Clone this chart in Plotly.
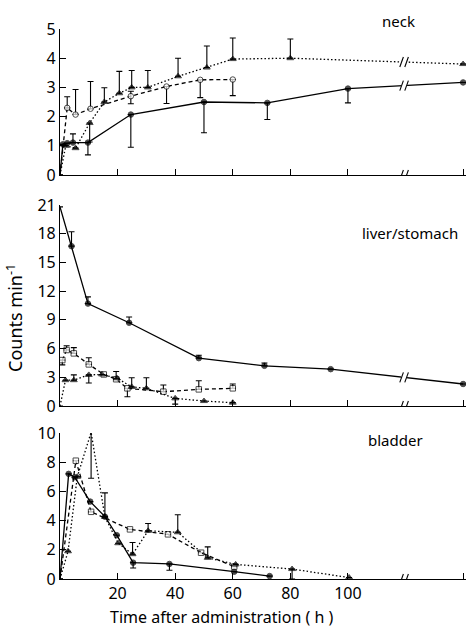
import numpy as np
import plotly.graph_objects as go

# ---------------- data (hours, counts/min) ----------------
# NECK
neck_solid_x = [0, 1, 2.5, 4.5, 9.7, 24.6, 50, 72, 100, 150]
neck_solid_y = [0, 1.05, 1.09, 1.11, 1.11, 2.07, 2.5, 2.47, 2.96, 3.17]
neck_solid_up = [0, 0, 0, 0.3, 0, 0, 0, 0, 0, 0]
neck_solid_dn = [0, 0, 0, 0, 0.42, 1.12, 1.05, 0.57, 0.49, 0]

neck_tri_x = [0, 2, 5.4, 10.3, 15.4, 20.6, 24.9, 30.5, 41, 51, 60, 80, 150]
neck_tri_y = [0, 1.0, 0.92, 1.78, 2.5, 2.8, 3.0, 3.0, 3.38, 3.68, 3.97, 4.0, 3.8]
neck_tri_up = [0, 0, 0, 0, 0.49, 0.75, 0.58, 0.58, 0.62, 0.74, 0.72, 0.66, 0]
neck_tri_dn = [0, 0, 0, 0.65, 0, 0, 0, 0, 0, 0, 0, 0, 0]

neck_open_x = [0, 2.5, 5.4, 10.6, 24.6, 37, 48.7, 60]
neck_open_y = [0, 2.3, 2.07, 2.27, 2.7, 3.03, 3.26, 3.27]
neck_open_up = [0, 0.38, 0.86, 0.93, 0.17, 0, 0, 0]
neck_open_dn = [0, 0, 0, 0, 0.26, 0.58, 0.61, 0.55]

# LIVER / STOMACH
liver_solid_x = [0, 4, 9.7, 24, 48.2, 71, 94, 150]
liver_solid_y = [20.8, 16.7, 10.7, 8.7, 5.0, 4.2, 3.85, 2.3]
liver_solid_up = [0, 1.5, 0.7, 0.6, 0.3, 0.3, 0, 0]
liver_solid_dn = [0, 0, 0, 0, 0, 0, 0, 0]

liver_open_x = [0.8, 2.3, 4.8, 10, 15.2, 19.5, 23.4, 35.9, 48.2, 60]
liver_open_y = [4.8, 5.85, 5.5, 4.35, 3.3, 2.8, 1.85, 1.5, 1.74, 1.85]
liver_open_up = [0, 0.45, 0.6, 0.7, 0, 0.8, 0, 0.7, 0.9, 0.45]
liver_open_dn = [0.5, 0, 0, 0, 0, 0, 0.88, 0, 0, 0]

liver_tri_x = [0, 1.9, 4.8, 10, 14.6, 19.8, 24.9, 30, 40, 50, 60]
liver_tri_y = [0, 2.7, 2.7, 3.25, 3.3, 2.9, 2.0, 1.85, 0.8, 0.52, 0.35]
liver_tri_up = [0, 0, 0.55, 0, 0, 0, 0.95, 1.1, 0, 0, 0]
liver_tri_dn = [0, 0, 0, 0.85, 0, 0, 0, 0, 0.6, 0, 0]

# BLADDER
blad_solid_x = [0, 3, 5.1, 10.5, 15.6, 19.7, 25.4, 38, 60.5, 72.8]
blad_solid_y = [0, 7.2, 6.97, 5.3, 4.27, 3.0, 1.12, 1.03, 0.5, 0.2]
blad_solid_up = [0, 0, 0, 0, 0, 0, 0, 0, 0, 0]
blad_solid_dn = [0, 0, 0, 0, 0, 0, 0.37, 0.43, 0, 0]

blad_open_x = [0, 5.5, 10.8, 24.3, 37.5, 49, 60.5]
blad_open_y = [0, 8.1, 4.6, 3.4, 3.06, 1.8, 0.85]
blad_open_up = [0, 0, 0, 0, 0, 0, 0]
blad_open_dn = [0, 0, 0, 0, 0, 0, 0]

blad_tri_x = [0, 2.8, 6, 10.8, 15.6, 20.2, 25.2, 30.6, 40.9, 51.3, 61, 80.6, 100.5]
blad_tri_y = [0, 1.9, 7.0, 10.05, 4.25, 2.45, 1.7, 3.3, 3.2, 1.45, 1.0, 0.68, 0.1]
blad_tri_up = [0, 0, 0, 0, 1.65, 0, 0.8, 0.5, 1.2, 0.75, 0, 0, 0]
blad_tri_dn = [0, 0, 0, 3.15, 0, 0, 0, 0, 0, 0, 0, 0.68, 0]

x_tick_vals = [20, 40, 60, 80, 100, 150]
x_tick_text = ["20", "40", "60", "80", "100", "150"]
panel_names = ["neck", "liver/stomach", "bladder"]
y_ranges = [(0, 5, 1), (0, 21, 3), (0, 10, 2)]

# ---------------- broken-axis transform ----------------
BREAK_AT = 100.0
COMPRESS = 0.8
BREAK_POS = 119.5  # transformed position of the "//" marks


def tx(x):
    x = np.asarray(x, dtype=float)
    return np.where(x <= BREAK_AT, x, BREAK_AT + (x - BREAK_AT) * COMPRESS)


FONT = "Noto Sans"
fig = go.Figure()


def add_series(xs, ys, up, dn, symbol, fill, dash, axis):
    xs_t = tx(xs)
    sizes = [0 if x == 0 else (6 if symbol == "triangle-up" else 5.5) for x in xs]
    fig.add_trace(go.Scatter(
        x=xs_t, y=ys, xaxis="x" + axis, yaxis="y" + axis,
        mode="lines+markers",
        line=dict(color="black", width=1.3, dash=dash),
        marker=dict(symbol=symbol, size=sizes, color=fill,
                    line=dict(color="black", width=1)),
        error_y=dict(type="data", symmetric=False, array=up, arrayminus=dn,
                     color="black", thickness=1.1, width=3),
        cliponaxis=False, showlegend=False, hoverinfo="x+y",
    ))
    return xs_t, np.asarray(ys, dtype=float)


DOT = "1.5px,2.2px"
DASH = "4px,3px"

panels = [
    ("", [(neck_solid_x, neck_solid_y, neck_solid_up, neck_solid_dn, "circle", "black", "solid"),
          (neck_tri_x, neck_tri_y, neck_tri_up, neck_tri_dn, "triangle-up", "black", DOT),
          (neck_open_x, neck_open_y, neck_open_up, neck_open_dn, "circle", "white", DASH)]),
    ("2", [(liver_solid_x, liver_solid_y, liver_solid_up, liver_solid_dn, "circle", "black", "solid"),
           (liver_open_x, liver_open_y, liver_open_up, liver_open_dn, "square", "white", DASH),
           (liver_tri_x, liver_tri_y, liver_tri_up, liver_tri_dn, "triangle-up", "black", DOT)]),
    ("3", [(blad_solid_x, blad_solid_y, blad_solid_up, blad_solid_dn, "circle", "black", "solid"),
           (blad_open_x, blad_open_y, blad_open_up, blad_open_dn, "square", "white", DASH),
           (blad_tri_x, blad_tri_y, blad_tri_up, blad_tri_dn, "triangle-up", "black", DOT)]),
]

shapes = []


def break_marks(axis, yval):
    xr, yr = "x" + axis, "y" + axis
    common = dict(xref=xr, yref=yr, xsizemode="pixel", ysizemode="pixel",
                  xanchor=BREAK_POS, yanchor=yval)
    shapes.append(dict(type="rect", x0=-3, x1=3, y0=-2.5, y1=2.5,
                       fillcolor="white", line=dict(width=0), **common))
    for off in (-2.5, 2.5):
        shapes.append(dict(type="line", x0=off - 1.8, x1=off + 1.8, y0=-5, y1=5,
                           line=dict(color="black", width=1.1), **common))


for axis, series in panels:
    for s in series:
        xs_t, ys = add_series(*s, axis)
        if xs_t.max() > BREAK_POS:
            break_marks(axis, float(np.interp(BREAK_POS, xs_t, ys)))
    break_marks(axis, 0.0)

# ---------------- layout ----------------
domains = [[0.7345, 1.0], [0.3145, 0.68], [0.0, 0.2655]]
layout = dict(
    width=466, height=627,
    margin=dict(l=60, r=0, t=29, b=48),
    paper_bgcolor="white", plot_bgcolor="white",
    font=dict(family=FONT, color="black", size=15),
    shapes=shapes,
)
for i, axis in enumerate(["", "2", "3"]):
    lo, hi, step = y_ranges[i]
    layout["xaxis" + axis] = dict(
        domain=[0, 1], anchor="y" + axis, range=[0, 141],
        showgrid=False, zeroline=False, showline=True, linecolor="black", linewidth=1.2,
        ticks="inside", ticklen=6, tickwidth=1.1, tickcolor="black",
        tickvals=list(tx(x_tick_vals)), ticktext=x_tick_text,
        showticklabels=(axis == "3"), tickfont=dict(size=16, family=FONT),
    )
    layout["yaxis" + axis] = dict(
        domain=domains[i], anchor="x" + axis, range=[lo, hi],
        showgrid=False, zeroline=False, showline=True, linecolor="black", linewidth=1.2,
        ticks="inside", ticklen=6, tickwidth=1.1, tickcolor="black",
        tickvals=list(range(lo, hi + 1, step)), tickfont=dict(size=16, family=FONT),
    )

annots = [
    dict(text=panel_names[0], x=0.879, y=1.0145, xanchor="right"),
    dict(text=panel_names[1], x=0.985, y=0.629, xanchor="right"),
    dict(text=panel_names[2], x=0.899, y=0.253, xanchor="right"),
    dict(text="Counts min<sup>-1</sup>", x=-0.111, y=0.4745, textangle=-90,
         font=dict(size=18, family=FONT)),
    dict(text="Time after administration ( h )", x=0.397, y=-0.069,
         font=dict(size=16, family=FONT)),
]
layout["annotations"] = [dict(xref="paper", yref="paper", showarrow=False,
                              xanchor=a.pop("xanchor", "center"), yanchor="middle",
                              font=a.pop("font", dict(size=15, family=FONT)), **a)
                         for a in annots]

fig.update_layout(**layout)
fig.write_html("out.html", config={"displayModeBar": False},
               post_script="document.body.style.margin='0';document.body.style.overflow='hidden';")
